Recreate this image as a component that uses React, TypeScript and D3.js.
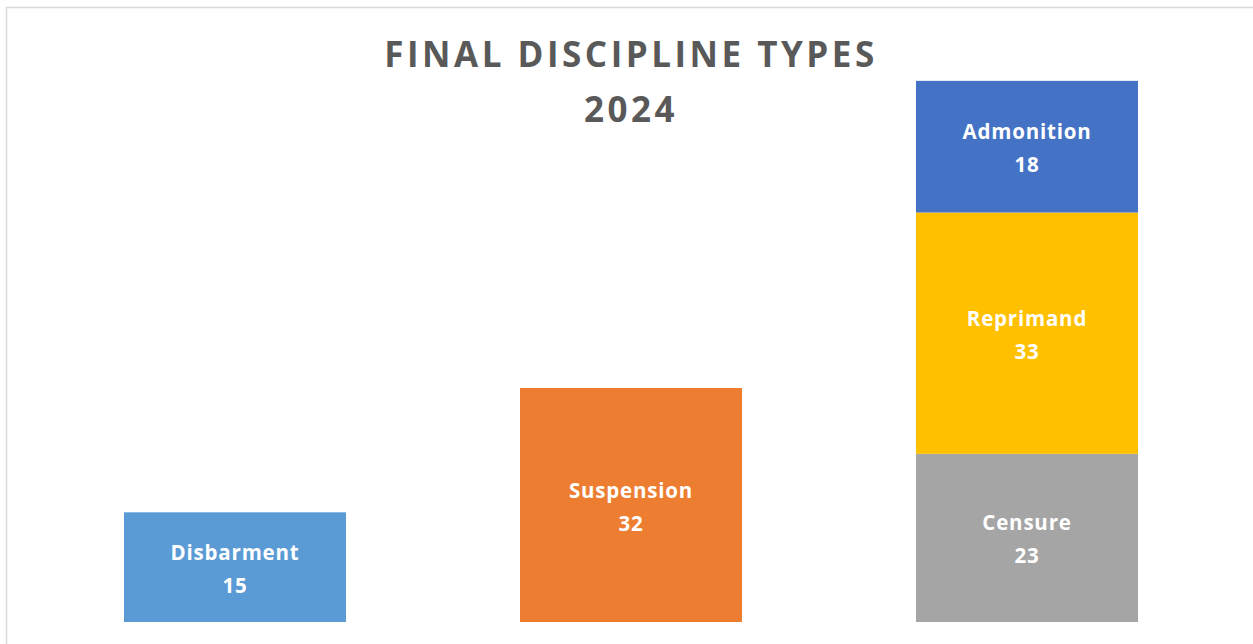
import React from "react";
import * as d3 from "d3";

const categories = ["Disbarment", "Suspension", "Other"];
const seriesNames = ["Disbarment", "Suspension", "Censure", "Reprimand", "Admonition"];
const disbarment = [15, 0, 0];
const suspension = [0, 32, 0];
const censure = [0, 0, 23];
const reprimand = [0, 0, 33];
const admonition = [0, 0, 18];
const titleLines = ["FINAL DISCIPLINE TYPES", "2024"];

const colors: Record<string, string> = {
  Disbarment: "#5B9BD5",
  Suspension: "#ED7D31",
  Censure: "#A5A5A5",
  Reprimand: "#FFC000",
  Admonition: "#4472C4",
};

const W = 1253;
const H = 644;
const FONT = "'Open Sans', 'Noto Sans', sans-serif";

export default function App() {
  const seriesValues: Record<string, number[]> = {
    Disbarment: disbarment,
    Suspension: suspension,
    Censure: censure,
    Reprimand: reprimand,
    Admonition: admonition,
  };
  const table = categories.map((c, i) => {
    const row: any = { category: c };
    seriesNames.forEach((s) => (row[s] = seriesValues[s][i]));
    return row;
  });
  const stacked = d3.stack<any>().keys(seriesNames)(table);

  const x = d3
    .scaleBand<string>()
    .domain(categories)
    .range([37, 1225])
    .paddingInner(174 / 396)
    .paddingOuter(87 / 396);
  const y = d3.scaleLinear().domain([0, 80]).range([622, 37]);

  return (
    <svg
      width={W}
      height={H}
      style={{ position: "absolute", left: 0, top: 0, background: "#fff" }}
    >
      <rect x={6.5} y={7.5} width={W} height={H} fill="#fff" stroke="#d9d9d9" strokeWidth={1.5} />
      {titleLines.map((t, i) => (
        <text
          key={i}
          x={631}
          y={66.5 + i * 55.5}
          textAnchor="middle"
          fontFamily={FONT}
          fontWeight={700}
          fontSize={35}
          letterSpacing={3.5}
          fill="#595959"
        >
          {t}
        </text>
      ))}
      {stacked.map((layer) =>
        layer.map((d, i) => {
          const v = d[1] - d[0];
          if (!v) return null;
          const cat = categories[i];
          const x0 = x(cat)!;
          const y0 = y(d[1]);
          const h = y(d[0]) - y(d[1]);
          const cx = x0 + x.bandwidth() / 2;
          const cy = y0 + h / 2;
          return (
            <g key={layer.key + "-" + i}>
              <rect x={x0} y={y0} width={x.bandwidth()} height={h} fill={colors[layer.key]} />
              <text
                x={cx}
                y={cy - 7.5}
                textAnchor="middle"
                fontFamily={FONT}
                fontWeight={700}
                fontSize={20.5}
                letterSpacing={0.8}
                fill="#fff"
              >
                {layer.key}
              </text>
              <text
                x={cx}
                y={cy + 25.5}
                textAnchor="middle"
                fontFamily={FONT}
                fontWeight={700}
                fontSize={20.5}
                letterSpacing={0.8}
                fill="#fff"
              >
                {v}
              </text>
            </g>
          );
        })
      )}
    </svg>
  );
}
